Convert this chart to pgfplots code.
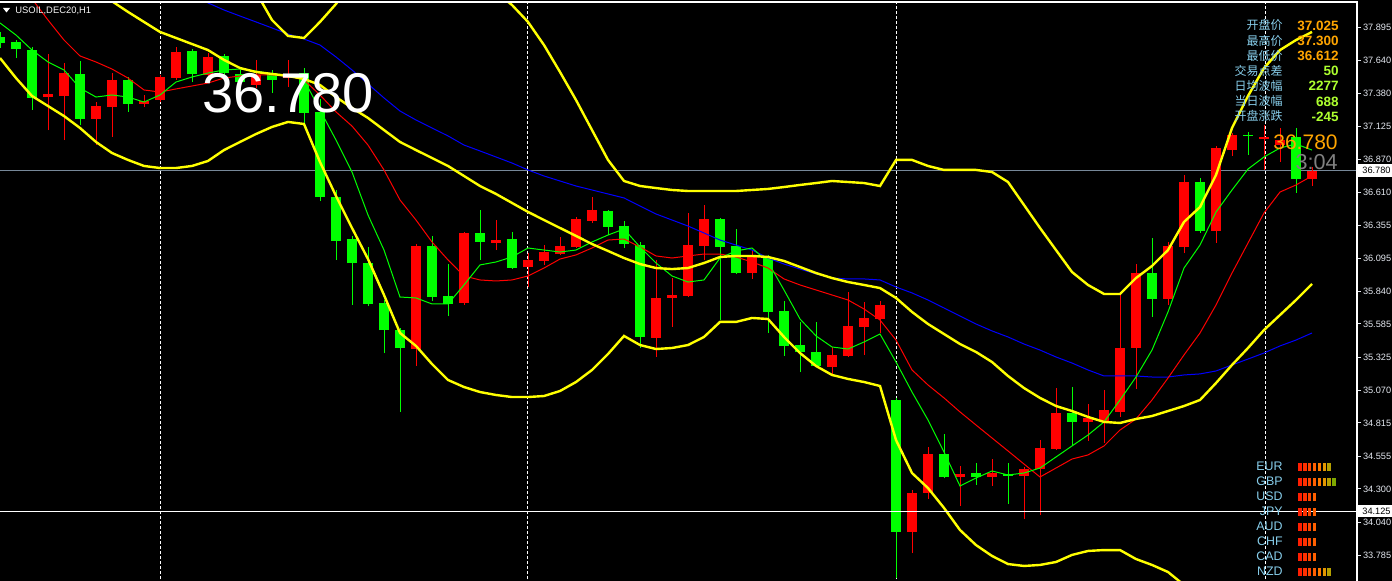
\documentclass[border=0pt]{standalone}
\usepackage{pgfplots}
\pgfplotsset{compat=1.18}
\usepackage{pgfplotstable}
\usepackage{fontspec}
\setmainfont{Liberation Sans}
\newfontfamily\cjk{Noto Sans CJK SC}

\definecolor{upred}{HTML}{FF0000}
\definecolor{dngreen}{HTML}{00FF00}
\definecolor{bandyellow}{HTML}{FFFF00}
\definecolor{mablue}{HTML}{0000FF}
\definecolor{labelblue}{HTML}{87CEEB}
\definecolor{valorange}{HTML}{FFA500}
\definecolor{valgreen}{HTML}{ADFF2F}
\definecolor{bidgray}{HTML}{778899}
\definecolor{ticktext}{HTML}{E4E8F0}
\definecolor{timergray}{HTML}{808080}
\definecolor{bA}{HTML}{FF1E00}
\definecolor{bB}{HTML}{FF3000}
\definecolor{bC}{HTML}{FF4600}
\definecolor{bD}{HTML}{FF6000}
\definecolor{bE}{HTML}{FF7A00}
\definecolor{bF}{HTML}{E39600}
\definecolor{bG}{HTML}{B5A000}
\definecolor{bH}{HTML}{7FA800}

% bullish (red) candles: x o h l c
\pgfplotstableread{
x o h l c
48 37.353 37.688 37.096 37.377
64 37.361 37.618 37.018 37.540
96 37.182 37.314 36.979 37.283
112 37.275 37.540 37.042 37.486
144 37.299 37.369 37.275 37.322
160 37.330 37.525 37.314 37.509
176 37.501 37.743 37.486 37.704
208 37.525 37.696 37.501 37.665
256 37.447 37.642 37.423 37.525
288 37.501 37.642 37.431 37.533
416 35.390 36.208 35.258 36.193
464 35.749 36.302 35.733 36.294
496 36.216 36.395 36.161 36.239
528 36.029 36.138 35.873 36.084
544 36.076 36.200 36.045 36.146
560 36.130 36.263 36.123 36.193
576 36.185 36.419 36.177 36.403
592 36.387 36.574 36.372 36.473
656 35.476 36.084 35.328 35.788
672 35.788 35.943 35.562 35.811
688 35.803 36.450 35.795 36.200
704 36.193 36.512 36.084 36.403
752 35.982 36.161 35.936 36.123
832 35.250 35.406 35.188 35.344
848 35.336 35.834 35.328 35.569
864 35.562 35.756 35.344 35.632
880 35.624 35.764 35.515 35.733
912 33.965 34.292 33.801 34.269
928 34.269 34.627 34.222 34.572
960 34.393 34.479 34.167 34.417
992 34.393 34.533 34.323 34.424
1024 34.401 34.471 34.066 34.455
1040 34.455 34.681 34.097 34.619
1056 34.611 35.086 34.603 34.892
1088 34.822 34.962 34.674 34.853
1104 34.829 35.071 34.658 34.915
1120 34.900 35.834 34.861 35.398
1136 35.398 36.052 35.079 35.982
1168 35.780 36.224 35.733 36.193
1184 36.185 36.746 36.138 36.691
1216 36.310 36.972 36.216 36.956
1232 36.940 37.073 36.894 37.057
1264 37.026 37.135 36.785 37.042
1280 36.979 37.112 36.847 37.018
1312 36.715 36.808 36.660 36.780
}\upcandles

% bearish (green) candles: x o h l c
\pgfplotstableread{
x o h l c
0 37.821 37.860 37.735 37.774
16 37.782 37.797 37.657 37.727
32 37.719 37.743 37.252 37.346
80 37.533 37.634 37.135 37.182
128 37.486 37.509 37.237 37.299
192 37.712 37.727 37.470 37.533
224 37.673 37.688 37.486 37.540
240 37.533 37.564 37.408 37.470
272 37.540 37.564 37.385 37.486
304 37.540 37.579 37.151 37.229
320 37.237 37.338 36.543 36.574
336 36.574 36.629 36.084 36.232
352 36.247 36.271 35.733 36.060
368 36.060 36.185 35.725 35.741
384 35.749 35.772 35.359 35.538
400 35.538 35.554 34.900 35.398
432 36.193 36.271 35.764 35.795
448 35.803 36.052 35.647 35.741
480 36.294 36.473 36.084 36.224
512 36.247 36.302 36.013 36.021
608 36.465 36.473 36.278 36.341
624 36.348 36.387 36.177 36.208
640 36.200 36.224 35.398 35.484
720 36.403 36.411 35.616 36.185
736 36.193 36.325 35.975 35.982
768 36.107 36.123 35.515 35.679
784 35.686 35.764 35.336 35.414
800 35.421 35.601 35.211 35.367
816 35.367 35.601 35.250 35.258
896 34.993 35.009 33.606 33.965
944 34.572 34.728 34.385 34.393
976 34.424 34.502 34.331 34.393
1008 34.417 34.502 34.183 34.401
1072 34.892 35.094 34.642 34.822
1152 35.982 36.255 35.640 35.780
1200 36.691 36.722 36.294 36.310
1248 37.057 37.081 36.902 37.050
1296 37.042 37.112 36.606 36.715
}\downcandles

\begin{document}
\begin{tikzpicture}
\fill[black] (0pt,0pt) rectangle (696pt,290.5pt);
\useasboundingbox (0pt,0pt) rectangle (696pt,290.5pt);
\begin{axis}[
  at={(0pt,0pt)}, anchor=south west,
  scale only axis, width=678.5pt, height=289.5pt,
  xmin=0, xmax=1357, ymin=33.583, ymax=38.0934,
  axis line style={draw=none},
  xtick=\empty,
  ytick={37.895,37.640,37.380,37.125,36.870,36.610,36.355,36.095,35.840,35.585,35.325,35.070,34.815,34.555,34.300,34.040,33.785},
  yticklabels={37.895,37.640,37.380,37.125,36.870,36.610,36.355,36.095,35.840,35.585,35.325,35.070,34.815,34.555,34.300,34.040,33.785},
  ytick pos=right, yticklabel pos=right,
  tick align=outside, major tick length=2pt,
  ytick style={draw=ticktext, line width=0.5pt},
  yticklabel style={font=\fontsize{4.6}{5}\selectfont, text=ticktext, anchor=west, inner sep=0pt, xshift=0.8pt},
  clip mode=individual,
]
% day separators
\addplot[white, line width=0.5pt, dash pattern=on 1.5pt off 1pt, forget plot] coordinates {(160,33.4) (160,38.3)};
\addplot[white, line width=0.5pt, dash pattern=on 1.5pt off 1pt, forget plot] coordinates {(527,33.4) (527,38.3)};
\addplot[white, line width=0.5pt, dash pattern=on 1.5pt off 1pt, forget plot] coordinates {(896,33.4) (896,38.3)};
\addplot[white, line width=0.5pt, dash pattern=on 1.5pt off 1pt, forget plot] coordinates {(1265,33.4) (1265,38.3)};
% bid line
\addplot[bidgray, line width=0.5pt, forget plot] coordinates {(0,36.780) (1357,36.780)};

% candle wicks
\addplot[draw=none, mark=none, forget plot, error bars/.cd, y dir=plus, y explicit, error mark=none,
  error bar style={draw=upred, line width=0.5pt}]
  table[x=x, y=l, y error plus expr=\thisrow{h}-\thisrow{l}] {\upcandles};
\addplot[draw=none, mark=none, forget plot, error bars/.cd, y dir=plus, y explicit, error mark=none,
  error bar style={draw=dngreen, line width=0.5pt}]
  table[x=x, y=l, y error plus expr=\thisrow{h}-\thisrow{l}] {\downcandles};
% candle bodies
\addplot[draw=none, mark=none, forget plot, error bars/.cd, y dir=plus, y explicit, error mark=none,
  error bar style={draw=upred, line width=5.25pt}]
  table[x=x, y=o, y error plus expr=\thisrow{c}-\thisrow{o}] {\upcandles};
\addplot[draw=none, mark=none, forget plot, error bars/.cd, y dir=plus, y explicit, error mark=none,
  error bar style={draw=dngreen, line width=5.25pt}]
  table[x=x, y=c, y error plus expr=\thisrow{o}-\thisrow{c}] {\downcandles};

% slow MA (blue)
\addplot[mablue, line width=0.5pt, forget plot] coordinates {
(192,38.156)(208,38.086)(224,38.031)(240,37.984)(256,37.938)(272,37.891)(288,37.844)(304,37.805)(320,37.758)(336,37.665)(352,37.564)(368,37.455)(384,37.346)(400,37.244)(416,37.174)(432,37.112)(448,37.050)(464,36.979)(480,36.933)(496,36.886)(512,36.839)(528,36.785)(544,36.738)(560,36.699)(576,36.660)(592,36.629)(608,36.598)(624,36.567)(640,36.504)(656,36.442)(672,36.395)(688,36.348)(704,36.294)(720,36.239)(736,36.200)(752,36.161)(768,36.099)(784,36.052)(800,36.013)(816,35.975)(832,35.943)(848,35.936)(864,35.936)(880,35.928)(896,35.873)(912,35.827)(928,35.772)(944,35.710)(960,35.647)(976,35.585)(992,35.531)(1008,35.484)(1024,35.429)(1040,35.382)(1056,35.328)(1072,35.281)(1088,35.227)(1104,35.180)(1120,35.180)(1136,35.180)(1152,35.172)(1168,35.172)(1184,35.188)(1200,35.196)(1216,35.219)(1232,35.266)(1248,35.312)(1264,35.359)(1280,35.414)(1296,35.460)(1312,35.515)};
% MA (red, thin)
\addplot[upred, line width=0.5pt, forget plot] coordinates {
(32,38.117)(48,37.953)(64,37.797)(80,37.673)(96,37.626)(112,37.571)(128,37.501)(144,37.408)(160,37.392)(176,37.416)(192,37.439)(208,37.462)(224,37.501)(240,37.517)(256,37.525)(272,37.525)(288,37.517)(304,37.486)(320,37.369)(336,37.237)(352,37.127)(368,36.979)(384,36.785)(400,36.551)(416,36.395)(432,36.224)(448,36.084)(464,35.959)(480,35.928)(496,35.920)(512,35.928)(528,35.959)(544,36.021)(560,36.091)(576,36.123)(592,36.177)(608,36.239)(624,36.247)(640,36.185)(656,36.115)(672,36.099)(688,36.115)(704,36.130)(720,36.130)(736,36.107)(752,36.068)(768,36.021)(784,35.936)(800,35.889)(816,35.850)(832,35.811)(848,35.772)(864,35.702)(880,35.616)(896,35.460)(912,35.227)(928,35.110)(944,35.009)(960,34.900)(976,34.798)(992,34.697)(1008,34.596)(1024,34.494)(1040,34.393)(1056,34.463)(1072,34.533)(1088,34.565)(1104,34.635)(1120,34.759)(1136,34.845)(1152,34.993)(1168,35.164)(1184,35.344)(1200,35.515)(1216,35.733)(1232,35.982)(1248,36.216)(1264,36.450)(1280,36.613)(1296,36.668)(1312,36.738)};
% MA (green, thin)
\addplot[dngreen, line width=0.5pt, forget plot] coordinates {
(0,37.930)(16,37.836)(32,37.719)(48,37.626)(64,37.564)(80,37.423)(96,37.353)(112,37.369)(128,37.353)(144,37.314)(160,37.369)(176,37.470)(192,37.509)(208,37.540)(224,37.564)(240,37.571)(256,37.556)(272,37.533)(288,37.525)(304,37.486)(320,37.252)(336,37.018)(352,36.769)(368,36.434)(384,36.161)(400,35.795)(416,35.788)(432,35.741)(448,35.741)(464,35.889)(480,36.045)(496,36.068)(512,36.107)(528,36.177)(544,36.161)(560,36.146)(576,36.161)(592,36.224)(608,36.278)(624,36.325)(640,36.185)(656,36.060)(672,35.959)(688,35.912)(704,35.928)(720,36.099)(736,36.154)(752,36.177)(768,36.068)(784,35.850)(800,35.624)(816,35.492)(832,35.406)(848,35.390)(864,35.445)(880,35.507)(896,35.289)(912,35.055)(928,34.837)(944,34.588)(960,34.323)(976,34.385)(992,34.440)(1008,34.409)(1024,34.424)(1040,34.463)(1056,34.549)(1072,34.635)(1088,34.720)(1104,34.822)(1120,34.993)(1136,35.172)(1152,35.382)(1168,35.679)(1184,36.021)(1200,36.200)(1216,36.457)(1232,36.629)(1248,36.792)(1264,36.886)(1280,36.956)(1296,36.987)(1312,36.940)};

% Bollinger bands (yellow)
\addplot[bandyellow, line width=1.2pt, forget plot] coordinates {
(96,38.171)(110,38.109)(128,38.016)(144,37.938)(160,37.860)(176,37.813)(192,37.766)(208,37.719)(224,37.642)(240,37.579)(256,37.548)(272,37.533)(288,37.517)(304,37.494)(320,37.447)(336,37.353)(352,37.268)(368,37.190)(384,37.096)(400,37.003)(416,36.940)(432,36.878)(448,36.816)(464,36.738)(480,36.660)(496,36.598)(512,36.528)(528,36.458)(544,36.395)(560,36.333)(576,36.271)(592,36.208)(608,36.154)(624,36.099)(640,36.052)(656,36.021)(672,36.013)(688,36.021)(704,36.060)(720,36.107)(736,36.115)(752,36.115)(768,36.107)(784,36.076)(800,36.029)(816,35.982)(832,35.943)(848,35.912)(864,35.889)(880,35.865)(896,35.788)(912,35.679)(928,35.585)(944,35.507)(960,35.429)(976,35.367)(992,35.289)(1008,35.180)(1024,35.086)(1040,35.009)(1056,34.946)(1072,34.907)(1088,34.861)(1104,34.822)(1120,34.814)(1136,34.845)(1152,34.868)(1168,34.907)(1184,34.946)(1200,34.993)(1216,35.125)(1232,35.266)(1248,35.398)(1264,35.538)(1280,35.655)(1296,35.772)(1312,35.897)};
\addplot[bandyellow, line width=1.2pt, forget plot] coordinates {
(256,38.171)(272,37.953)(288,37.829)(304,37.813)(320,37.938)(336,38.078)(344,38.171)};
\addplot[bandyellow, line width=1.2pt, forget plot] coordinates {
(496,38.171)(512,38.070)(528,37.938)(544,37.758)(560,37.548)(576,37.330)(592,37.096)(608,36.863)(624,36.699)(640,36.660)(656,36.644)(672,36.629)(688,36.621)(704,36.621)(720,36.621)(736,36.621)(752,36.629)(768,36.637)(784,36.652)(800,36.668)(816,36.683)(832,36.699)(848,36.691)(864,36.683)(880,36.660)(896,36.863)(912,36.863)(928,36.816)(944,36.785)(960,36.785)(976,36.785)(992,36.769)(1008,36.691)(1024,36.512)(1040,36.333)(1056,36.161)(1072,35.990)(1088,35.889)(1104,35.819)(1120,35.819)(1136,35.943)(1152,36.037)(1168,36.161)(1184,36.380)(1200,36.496)(1216,36.746)(1232,37.112)(1248,37.361)(1264,37.579)(1280,37.719)(1296,37.797)(1312,37.860)};
\addplot[bandyellow, line width=1.2pt, forget plot] coordinates {
(0,37.657)(16,37.501)(32,37.361)(48,37.283)(64,37.205)(80,37.112)(96,37.003)(112,36.917)(128,36.863)(144,36.816)(160,36.800)(176,36.800)(192,36.816)(208,36.855)(224,36.940)(240,37.003)(256,37.065)(272,37.120)(288,37.159)(304,37.143)(320,36.847)(336,36.582)(352,36.333)(368,36.091)(384,35.811)(400,35.515)(416,35.414)(432,35.273)(448,35.149)(464,35.094)(480,35.055)(496,35.032)(512,35.016)(528,35.016)(544,35.024)(560,35.063)(576,35.133)(592,35.227)(608,35.351)(624,35.492)(640,35.421)(656,35.390)(672,35.398)(688,35.421)(704,35.484)(720,35.601)(736,35.601)(752,35.632)(768,35.624)(784,35.484)(800,35.359)(816,35.258)(832,35.188)(848,35.157)(864,35.133)(880,35.102)(896,34.681)(912,34.424)(928,34.307)(944,34.152)(960,33.980)(976,33.863)(992,33.778)(1008,33.715)(1024,33.700)(1040,33.708)(1056,33.731)(1072,33.786)(1088,33.817)(1104,33.824)(1120,33.824)(1136,33.754)(1152,33.708)(1168,33.653)(1184,33.552)(1200,33.450)};

% level line
\addplot[white, line width=0.5pt, forget plot] coordinates {(0,34.125) (1357,34.125)};

% currency strength bars (rows: EUR GBP USD JPY AUD CHF CAD NZD)
\addplot[only marks, mark=|, mark size=1.85pt, mark options={draw=bA, line width=1.6pt}, forget plot] coordinates {(1300,34.471)(1300,34.354)(1300,34.237)(1300,34.121)(1300,34.004)(1300,33.887)(1300,33.770)(1300,33.653)};
\addplot[only marks, mark=|, mark size=1.85pt, mark options={draw=bB, line width=1.6pt}, forget plot] coordinates {(1305,34.471)(1305,34.354)(1305,34.237)(1305,34.121)(1305,34.004)(1305,33.887)(1305,33.770)(1305,33.653)};
\addplot[only marks, mark=|, mark size=1.85pt, mark options={draw=bC, line width=1.6pt}, forget plot] coordinates {(1309.7,34.471)(1309.7,34.354)(1309.7,34.237)(1309.7,34.121)(1309.7,34.004)(1309.7,33.887)(1309.7,33.770)(1309.7,33.653)};
\addplot[only marks, mark=|, mark size=1.85pt, mark options={draw=bD, line width=1.6pt}, forget plot] coordinates {(1314.6,34.471)(1314.6,34.354)(1314.6,34.237)(1314.6,34.121)(1314.6,34.004)(1314.6,33.887)(1314.6,33.770)(1314.6,33.653)};
\addplot[only marks, mark=|, mark size=1.85pt, mark options={draw=bE, line width=1.6pt}, forget plot] coordinates {(1319.4,34.471)(1319.4,34.354)(1319.4,33.653)};
\addplot[only marks, mark=|, mark size=1.85pt, mark options={draw=bF, line width=1.6pt}, forget plot] coordinates {(1324.2,34.471)(1324.2,34.354)(1324.2,33.653)};
\addplot[only marks, mark=|, mark size=1.85pt, mark options={draw=bG, line width=1.6pt}, forget plot] coordinates {(1329,34.471)(1329,34.354)(1329,33.653)};
\addplot[only marks, mark=|, mark size=1.85pt, mark options={draw=bH, line width=1.6pt}, forget plot] coordinates {(1334,34.354)};
\end{axis}

% overlay texts, in pixel coordinates of the 1392x581 picture
\begin{scope}[x=0.5pt, y=-0.5pt, shift={(0pt,290.5pt)}]
\draw[white, line width=0.6pt] (0,2) -- (1357,2) -- (1357,581);
\fill[white] (3,8) -- (10,8) -- (6.5,12.5) -- cycle;
\node[anchor=base west, inner sep=0pt, text=white!92!gray, font=\fontsize{4.7}{5}\selectfont] at (15,14) {USOIL,DEC20,H1};
\node[anchor=base west, inner sep=0pt, text=white, font=\fontsize{28}{30}\selectfont] at (202,113) {36.780};
% info panel
\foreach \lab/\val/\col [count=\k from 0] in {开盘价/37.025/valorange, 最高价/37.300/valorange, 最低价/36.612/valorange, 交易点差/50/valgreen, 日均波幅/2277/valgreen, 当日波幅/688/valgreen, 开盘涨跌/-245/valgreen}{
  \node[anchor=base east, inner sep=0pt, text=labelblue, font=\cjk\fontsize{6}{7}\selectfont] at (1283,30+15.1*\k) {\lab};
  \node[anchor=base east, inner sep=0pt, text=\col, font=\bfseries\fontsize{6.75}{7}\selectfont] at (1339,30.6+15.1*\k) {\val};
}
\node[anchor=base east, inner sep=0pt, text=valorange, font=\fontsize{10.5}{11}\selectfont] at (1338,150) {36.780};
\node[anchor=base east, inner sep=0pt, text=timergray, font=\fontsize{10.8}{11}\selectfont] at (1338,170) {3:04};
% price boxes
\fill[white] (1358,164) rectangle (1392,177);
\node[anchor=base west, inner sep=0pt, text=black, font=\fontsize{4.6}{5}\selectfont] at (1362,173.8) {36.780};
\fill[white] (1358,505) rectangle (1392,517);
\node[anchor=base west, inner sep=0pt, text=black, font=\fontsize{4.6}{5}\selectfont] at (1362,514.6) {34.125};
% currency labels
\foreach \cur [count=\k from 0] in {EUR,GBP,USD,JPY,AUD,CHF,CAD,NZD}{
  \node[anchor=base east, inner sep=0pt, text=labelblue, font=\fontsize{6.2}{7}\selectfont] at (1283,470.7+15*\k) {\cur};
}
\end{scope}
\end{tikzpicture}
\end{document}
